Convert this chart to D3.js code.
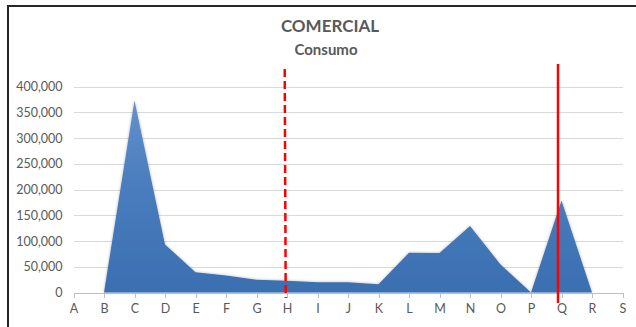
<!DOCTYPE html>
<html>
<head>
<meta charset="utf-8">
<script src="https://cdn.jsdelivr.net/npm/d3@7"></script>
<style>
  html, body { margin: 0; padding: 0; background: #ffffff; }
  svg { display: block; }
  text { font-family: Lato, "Open Sans", "Liberation Sans", sans-serif; }
</style>
</head>
<body>
<svg id="chart" width="636" height="327"></svg>
<script>
// ---- data ----
const categories = ["A","B","C","D","E","F","G","H","I","J","K","L","M","N","O","P","Q","R","S"];
const consumo = [0, 0, 373000, 93500, 39500, 33000, 24700, 22800, 20000, 20000, 16200, 77300, 76600, 129200, 54500, 0, 179000, 0, null];
const yTicks = [0, 50000, 100000, 150000, 200000, 250000, 300000, 350000, 400000];
const title = "COMERCIAL";
const subtitle = "Consumo";
const markerCats = ["H", "Q"];
const markerKinds = ["dashed", "solid"];

// ---- layout ----
const svg = d3.select("#chart");
const W = 636, H = 327;
const x = d3.scalePoint().domain(categories).range([73.5, 622.5]);
const y = d3.scaleLinear().domain([0, 400000]).range([292.5, 86.7]);

const defs = svg.append("defs");
const grad = defs.append("linearGradient").attr("id", "areaGrad")
  .attr("gradientUnits", "userSpaceOnUse")
  .attr("x1", 0).attr("y1", y(380000)).attr("x2", 0).attr("y2", y(0));
grad.append("stop").attr("offset", "0%").attr("stop-color", "#6592cd");
grad.append("stop").attr("offset", "45%").attr("stop-color", "#4a7dbd");
grad.append("stop").attr("offset", "100%").attr("stop-color", "#3a6fb1");
const sh = defs.append("filter").attr("id", "shadow")
  .attr("x", "-10%").attr("y", "-10%").attr("width", "120%").attr("height", "120%");
sh.append("feGaussianBlur").attr("in", "SourceAlpha").attr("stdDeviation", 1.4).attr("result", "b");
sh.append("feComponentTransfer").attr("in", "b").attr("result", "s")
  .append("feFuncA").attr("type", "linear").attr("slope", 0.3);
const m = sh.append("feMerge");
m.append("feMergeNode").attr("in", "s");
m.append("feMergeNode").attr("in", "SourceGraphic");

// frame
svg.append("rect").attr("x", 8).attr("y", 6).attr("width", W + 10).attr("height", H + 10)
  .attr("fill", "#ffffff").attr("stroke", "#262626").attr("stroke-width", 2);

// titles
svg.append("text").attr("x", 330).attr("y", 32).attr("text-anchor", "middle")
  .attr("font-size", 17).attr("font-weight", "bold").attr("fill", "#595959").text(title);
svg.append("text").attr("x", 326).attr("y", 55).attr("text-anchor", "middle")
  .attr("font-size", 15).attr("font-weight", "bold").attr("fill", "#595959").text(subtitle);

// gridlines
const yAxis = d3.axisLeft(y).tickValues(yTicks).tickFormat(d3.format(","))
  .tickSize(-(x.range()[1] - x.range()[0])).tickPadding(11);
const gy = svg.append("g").attr("transform", `translate(${x.range()[0]},0)`).call(yAxis);
gy.select(".domain").remove();
gy.selectAll(".tick line").attr("stroke", "#d9d9d9").attr("stroke-width", 1)
  .attr("shape-rendering", "crispEdges");
gy.selectAll(".tick text").attr("fill", "#595959").attr("font-size", 12.5)
  .attr("font-family", "Lato, 'Open Sans', sans-serif");

// area
const area = d3.area()
  .defined(d => d.v !== null)
  .x(d => x(d.c)).y0(y(0)).y1(d => y(d.v));
const pts = categories.map((c, i) => ({ c, v: consumo[i] }));
svg.append("path").datum(pts).attr("d", area)
  .attr("fill", "url(#areaGrad)").attr("filter", "url(#shadow)");

// x axis
const xAxis = d3.axisBottom(x).tickSize(5).tickPadding(7).tickSizeOuter(0);
const gx = svg.append("g").attr("transform", `translate(0,${y(0)})`).call(xAxis);
gx.select(".domain").attr("stroke", "#bfbfbf").attr("shape-rendering", "crispEdges");
gx.selectAll(".tick line").attr("stroke", "#bfbfbf").attr("shape-rendering", "crispEdges");
gx.selectAll(".tick text").attr("fill", "#595959").attr("font-size", 12.5)
  .attr("font-family", "Lato, 'Open Sans', sans-serif");

// marker lines
markerCats.forEach((c, i) => {
  const kind = markerKinds[i];
  const xp = x(c) - (kind === "dashed" ? 2.3 : 3.5);
  const line = svg.append("line")
    .attr("x1", xp).attr("x2", kind === "dashed" ? xp + 1 : xp)
    .attr("y1", kind === "dashed" ? 69 : 64)
    .attr("y2", kind === "dashed" ? 298 : 303)
    .attr("stroke", "#ff0000").attr("stroke-width", 2.5);
  if (kind === "dashed") line.attr("stroke-dasharray", "8,4");
});
</script>
</body>
</html>
